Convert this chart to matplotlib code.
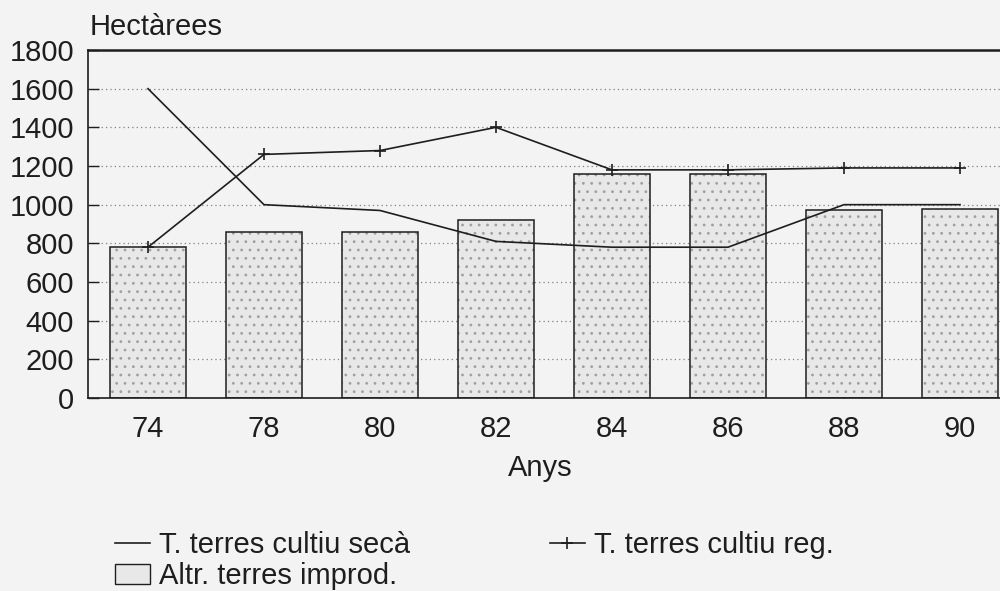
import matplotlib.pyplot as plt
from matplotlib.patches import Patch
import numpy as np

# values (hectares)
anys = ['74', '78', '80', '82', '84', '86', '88', '90']
improd = [780, 860, 860, 920, 1160, 1160, 970, 980]
seca = [1600, 1000, 970, 810, 780, 780, 1000, 1000]
regadiu = [780, 1260, 1280, 1400, 1180, 1180, 1190, 1190]
yticks = [0, 200, 400, 600, 800, 1000, 1200, 1400, 1600, 1800]

plt.rcParams['font.family'] = ['Liberation Sans', 'DejaVu Sans']
plt.rcParams['hatch.linewidth'] = 0.8

bg = '#f3f3f3'
ink = '#1e1e1e'
fs = 21

fig = plt.figure(figsize=(10, 5.91), dpi=100, facecolor=bg)
ax = fig.add_axes([0.088, 1 - 398 / 591, 0.912, 348 / 591])
ax.set_facecolor(bg)

x = np.arange(len(anys))
# stippled fill, then a separate outline so the dots stay grey
ax.bar(x, improd, width=0.66, color='#e8e8e8', edgecolor='#a0a0a0',
       linewidth=0, hatch='..', zorder=2)
ax.bar(x, improd, width=0.66, fill=False, edgecolor=ink, linewidth=1.1, zorder=2)

l1, = ax.plot(x, seca, color=ink, lw=1.2, zorder=3)
l2, = ax.plot(x, regadiu, color=ink, lw=1.2, marker='+', ms=9, mew=1.2, zorder=3)

ax.set_xlim(-0.517, 7.345)
ax.set_ylim(0, 1800)
ax.set_xticks(x, anys)
ax.set_yticks(yticks)
ax.tick_params(direction='in', length=8, width=1.0, colors=ink, labelsize=fs)
ax.tick_params(axis='y', pad=10)
ax.tick_params(axis='x', pad=12)

ax.set_axisbelow(True)
ax.yaxis.grid(True, linestyle=(0, (1, 2.5)), color='#808080', lw=0.9)

ax.spines['right'].set_visible(False)
ax.spines['top'].set_linewidth(1.8)
ax.spines['left'].set_linewidth(1.2)
ax.spines['bottom'].set_linewidth(1.2)
for s in ax.spines.values():
    s.set_color(ink)

fig.text(0.09, 1 - 27 / 591, 'Hectàrees', ha='left', va='center', fontsize=fs, color=ink)
fig.text(0.540, 1 - 468 / 591, 'Anys', ha='center', va='center', fontsize=fs, color=ink)

box = Patch(facecolor='#e8e8e8', edgecolor=ink, linewidth=1.0)
fig.legend(handles=[l1, box, l2],
           labels=['T. terres cultiu secà', 'Altr. terres improd.', 'T. terres cultiu reg.'],
           ncol=2, loc='upper left', bbox_to_anchor=(0.115, 1 - 531 / 591),
           frameon=False, fontsize=fs, labelcolor=ink, handlelength=1.2,
           handletextpad=0.3, columnspacing=4.8, labelspacing=0.1,
           borderaxespad=0, borderpad=0)

fig.savefig('out.png', dpi=100, facecolor=bg)
